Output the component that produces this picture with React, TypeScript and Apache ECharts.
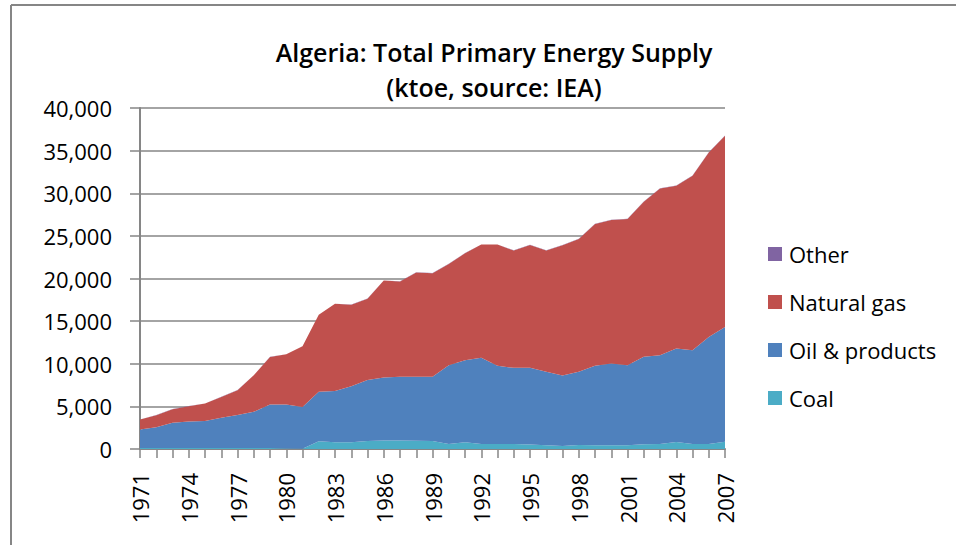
import React, { useEffect, useRef } from "react";
import * as echarts from "echarts";

const years: string[] = [];
for (let y = 1971; y <= 2007; y++) years.push(String(y));

const coal = [120, 120, 120, 120, 120, 120, 120, 120, 120, 60, 40, 900, 800, 800, 930, 1000, 1000, 970, 930, 600, 800, 600, 600, 600, 520, 440, 350, 470, 440, 440, 440, 550, 600, 820, 600, 600, 860];
const oil = [2180, 2420, 2960, 3120, 3160, 3550, 3860, 4250, 5110, 5170, 4880, 5810, 5990, 6575, 7150, 7390, 7470, 7500, 7540, 9230, 9620, 10090, 9155, 8920, 9000, 8610, 8270, 8580, 9315, 9590, 9390, 10260, 10400, 10960, 10990, 12550, 13460];
const gas = [1150, 1420, 1580, 1770, 2050, 2440, 2910, 4270, 5560, 5870, 7120, 9030, 10240, 9545, 9540, 11370, 11180, 12230, 12150, 11880, 12540, 13290, 14225, 13760, 14420, 14230, 15280, 15590, 16645, 16840, 17150, 18200, 19570, 19100, 20460, 21630, 22420];
const other = [20, 20, 20, 20, 20, 20, 20, 20, 20, 20, 20, 20, 20, 20, 20, 20, 20, 20, 20, 20, 20, 20, 20, 20, 20, 20, 20, 20, 20, 20, 20, 20, 20, 20, 20, 20, 20];

const seriesNames = ["Coal", "Oil & products", "Natural gas", "Other"];
const seriesColors = ["#4BACC6", "#4F81BD", "#C0504D", "#8064A2"];
const seriesData = [coal, oil, gas, other];
const legendOrder = ["Other", "Natural gas", "Oil & products", "Coal"];

const FONT = "'Open Sans', sans-serif";

export default function App() {
  const ref = useRef<HTMLDivElement>(null);
  useEffect(() => {
    if (!ref.current) return;
    const chart = echarts.init(ref.current, null, { renderer: "svg" });
    chart.setOption({
      animation: false,
      backgroundColor: "#ffffff",
      title: {
        text: "Algeria: Total Primary Energy Supply\n(ktoe, source: IEA)",
        left: 489,
        top: 29,
        textAlign: "center",
        textStyle: {
          fontFamily: FONT,
          fontSize: 25,
          fontWeight: 600,
          color: "#000",
          lineHeight: 35,
        },
      },
      legend: {
        data: legendOrder,
        orient: "vertical",
        left: 763,
        top: 237,
        itemGap: 24,
        itemWidth: 14,
        itemHeight: 14,
        icon: "rect",
        textStyle: { fontFamily: FONT, fontSize: 22, color: "#000", lineHeight: 24, padding: [0, 0, 0, 2] },
      },
      grid: { left: 140, right: 231, top: 108, bottom: 96, containLabel: false },
      xAxis: {
        type: "category",
        data: years,
        boundaryGap: false,
        axisLine: { lineStyle: { color: "#868686", width: 2 } },
        axisTick: { show: true, interval: 0, length: 9, lineStyle: { color: "#868686", width: 1.5 } },
        axisLabel: {
          interval: 2,
          rotate: 90,
          fontFamily: FONT,
          fontSize: 22,
          color: "#000",
          margin: 24,
        },
        splitLine: { show: false },
      },
      yAxis: {
        type: "value",
        min: 0,
        max: 40000,
        interval: 5000,
        axisLine: { show: true, lineStyle: { color: "#868686", width: 2 } },
        axisTick: { show: true, length: 10, lineStyle: { color: "#868686", width: 1.5 } },
        axisLabel: {
          fontFamily: FONT,
          fontSize: 22,
          color: "#000",
          margin: 28,
          formatter: (v: number) => v.toLocaleString("en-US"),
        },
        splitLine: { show: true, lineStyle: { color: "#868686", width: 1.5 } },
      },
      series: seriesNames.map((name, i) => ({
        name,
        type: "line",
        stack: "total",
        data: seriesData[i],
        symbol: "none",
        lineStyle: { width: 0 },
        areaStyle: { color: seriesColors[i], opacity: 1 },
        itemStyle: { color: seriesColors[i] },
        z: 2,
      })),
      graphic: [
        { type: "line", shape: { x1: 11, y1: 5, x2: 956, y2: 5 }, style: { stroke: "#868686", lineWidth: 2 } },
        { type: "line", shape: { x1: 11, y1: 5, x2: 11, y2: 545 }, style: { stroke: "#868686", lineWidth: 2 } },
      ],
    });
    return () => chart.dispose();
  }, []);
  return <div ref={ref} style={{ width: 956, height: 545, position: "absolute", left: 0, top: 0 }} />;
}
